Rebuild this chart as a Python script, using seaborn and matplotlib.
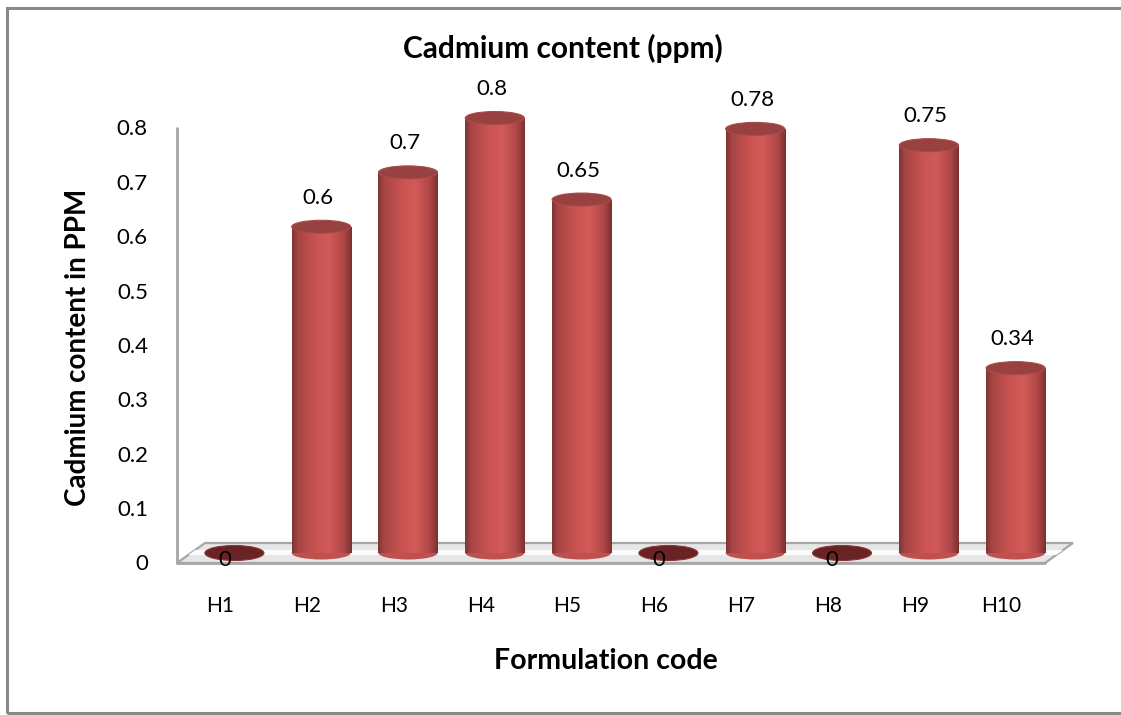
import numpy as np
import pandas as pd
import matplotlib
matplotlib.use("Agg")
import matplotlib.pyplot as plt
import matplotlib.transforms as mtransforms
from matplotlib.patches import Ellipse, Polygon, Rectangle
from matplotlib.lines import Line2D
from matplotlib.colors import LinearSegmentedColormap
import seaborn as sns

# ---- data ----
codes = ["H1", "H2", "H3", "H4", "H5", "H6", "H7", "H8", "H9", "H10"]
cadmium = [0, 0.6, 0.7, 0.8, 0.65, 0, 0.78, 0, 0.75, 0.34]
yticks = [0, 0.1, 0.2, 0.3, 0.4, 0.5, 0.6, 0.7, 0.8]
ytick_labels = ["0", "0.1", "0.2", "0.3", "0.4", "0.5", "0.6", "0.7", "0.8"]
value_labels = ["0", "0.6", "0.7", "0.8", "0.65", "0", "0.78", "0", "0.75", "0.34"]

title = "Cadmium content (ppm)"
xlabel = "Formulation code"
ylabel = "Cadmium content in PPM"

sns.set_style("white")
plt.rcParams["font.family"] = ["Lato", "DejaVu Sans"]

W, H = 1121, 715
fig = plt.figure(figsize=(W / 100, H / 100), dpi=100)
ax_l, ax_r, ax_b, ax_t = 191, 1059, 553, 118
ax = fig.add_axes([ax_l / W, (H - ax_b) / H, (ax_r - ax_l) / W, (ax_b - ax_t) / H])

df = pd.DataFrame({"code": codes, "value": cadmium})
bw = 0.68
sns.barplot(data=df, x="code", y="value", color="#C0504D", width=bw,
            ax=ax, errorbar=None, zorder=3, linewidth=0)

ax.set_xlim(-0.5, len(codes) - 0.5)
ax.set_ylim(0, 0.8)
for s in ax.spines.values():
    s.set_visible(False)
ax.set_xlabel("")
ax.set_ylabel("")

ax_wpx = ax_r - ax_l
ax_hpx = ax_b - ax_t
px_per_unit = ax_hpx / 0.8

# ---- floor (3D base) ----
dx, dy = 14, 10  # half depth offsets in px
fx, fy = dx / ax_wpx, dy / ax_hpx
floor = Polygon([(0 - fx, 0 - fy), (1 - fx, 0 - fy), (1 + fx, 0 + fy), (0 + fx, 0 + fy)],
                closed=True, transform=ax.transAxes, facecolor="#E6E6E6",
                edgecolor="#A6A6A6", linewidth=1.6, clip_on=False, zorder=1)
ax.add_patch(floor)
sheen = Polygon([(0 - fx * 0.2, -fy * 0.2), (1 - fx * 0.2, -fy * 0.2),
                 (1 + fx * 0.3, fy * 0.3), (0 + fx * 0.3, fy * 0.3)],
                closed=True, transform=ax.transAxes, facecolor="#FBFBFB",
                edgecolor="none", clip_on=False, zorder=1.1)
ax.add_patch(sheen)
ax.add_line(Line2D([0 - fx, 0 - fx], [0 - fy, 1 - fy], transform=ax.transAxes,
                   color="#A6A6A6", linewidth=2, clip_on=False, zorder=1.2))
ax.add_line(Line2D([0 - fx, 1 - fx], [0 - fy, 0 - fy], transform=ax.transAxes,
                   color="#A6A6A6", linewidth=2, clip_on=False, zorder=1.2))

# ---- cylinder shading ----
cmap = LinearSegmentedColormap.from_list(
    "cyl", [(0.0, "#7E3332"), (0.1, "#A64544"), (0.4, "#C95452"),
            (0.62, "#D25B59"), (0.86, "#B04847"), (1.0, "#7A2F2F")])
grad = np.linspace(0, 1, 256).reshape(1, -1)
ell_h = 13 / px_per_unit
disc_h = 15 / px_per_unit

for patch, val in zip(ax.patches, cadmium):
    x0 = patch.get_x()
    w = patch.get_width()
    xc = x0 + w / 2
    if val > 0:
        im = ax.imshow(grad, cmap=cmap, aspect="auto", extent=[x0, x0 + w, 0, val],
                       zorder=3.1, interpolation="bilinear")
        im.set_clip_path(patch)
        base = Ellipse((xc, 0), w, ell_h, facecolor="#C0504D", edgecolor="none",
                       zorder=2.9, clip_on=False)
        ax.add_patch(base)
        im2 = ax.imshow(grad, cmap=cmap, aspect="auto",
                        extent=[x0, x0 + w, -ell_h / 2, ell_h / 2],
                        zorder=2.95, interpolation="bilinear")
        im2.set_clip_path(base)
        top = Ellipse((xc, val), w, ell_h, facecolor="#974141",
                      edgecolor="#A94B49", linewidth=0.8, zorder=3.5, clip_on=False)
        ax.add_patch(top)
    else:
        disc = Ellipse((xc, 0), w, disc_h, facecolor="#6A2324",
                       edgecolor="#8A3434", linewidth=0.8, zorder=3.5, clip_on=False)
        ax.add_patch(disc)

ax.set_xlim(-0.5, len(codes) - 0.5)
ax.set_ylim(0, 0.8)

# ---- data labels ----
for i, (val, lab) in enumerate(zip(cadmium, value_labels)):
    if val > 0:
        ax.annotate(lab, (i, val), xytext=(-3, 29), textcoords="offset pixels",
                    ha="center", va="center", fontsize=16, color="#000000",
                    zorder=5, annotation_clip=False)
    else:
        ax.annotate(lab, (i, val), xytext=(-10, -7), textcoords="offset pixels",
                    ha="center", va="center", fontsize=16, color="#000000",
                    zorder=5, annotation_clip=False)

# ---- ticks ----
ax.set_yticks(yticks)
ax.set_yticklabels(ytick_labels)
ax.tick_params(axis="y", length=0, pad=31, labelsize=16, labelcolor="#000000")
ax.tick_params(axis="x", length=0, pad=31, labelsize=15, labelcolor="#000000")
off_y = mtransforms.ScaledTranslation(0, -9.5 / 100, fig.dpi_scale_trans)
for lab in ax.get_yticklabels():
    lab.set_transform(lab.get_transform() + off_y)
off_x = mtransforms.ScaledTranslation(-14 / 100, 0, fig.dpi_scale_trans)
for lab in ax.get_xticklabels():
    lab.set_transform(lab.get_transform() + off_x)
ax.grid(False)

# ---- titles ----
fig.text(563 / W, 1 - 48 / H, title, ha="center", va="center",
         fontsize=21.5, fontweight="bold", color="#000000")
fig.text(606 / W, 1 - 661 / H, xlabel, ha="center", va="center",
         fontsize=20.5, fontweight="bold", color="#000000")
fig.text(78 / W, 1 - 347 / H, ylabel, ha="center", va="center", rotation=90,
         fontsize=20, fontweight="bold", color="#000000")

# ---- outer border ----
fig.add_artist(Rectangle((7 / W, 1 - 713 / H), (1200 - 7) / W, (713 - 8) / H,
                         transform=fig.transFigure, fill=False,
                         edgecolor="#898989", linewidth=2.2))

fig.savefig("out.png", dpi=100, facecolor="white")
